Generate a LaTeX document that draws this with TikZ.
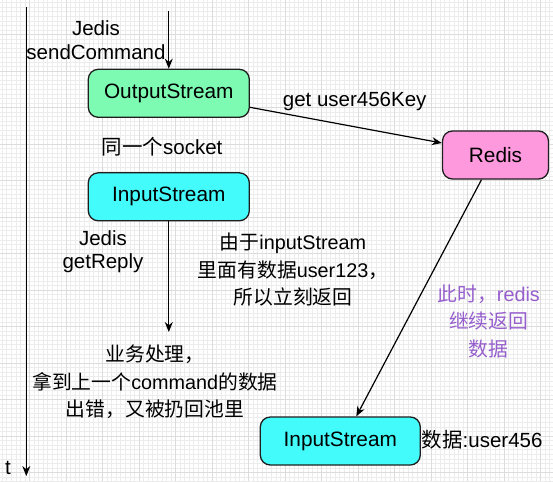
\documentclass[tikz,border=0pt]{standalone}
\usepackage{fontspec}
\setmainfont{Liberation Sans}
\newfontfamily\cjk{Noto Sans CJK SC}
\usetikzlibrary{arrows.meta}
\definecolor{gminor}{RGB}{236,236,236}
\definecolor{gmajor}{RGB}{220,220,220}
\definecolor{outgreen}{RGB}{125,251,178}
\definecolor{incyan}{RGB}{68,251,251}
\definecolor{redpink}{RGB}{255,153,221}
\definecolor{notepurple}{RGB}{150,95,205}
\definecolor{edge}{RGB}{30,30,30}
\tikzset{
  box/.style={draw=edge, line width=1.3pt, rounded corners=10pt, minimum width=161pt, minimum height=48pt, inner sep=0pt, font=\fontsize{20.8}{24}\selectfont},
  conn/.style={draw=black, line width=1.2pt, -{Stealth[length=10pt,width=8pt]}},
  lbl/.style={inner sep=0pt, align=center, font=\fontsize{20.5}{23.5}\selectfont},
  cnlbl/.style={inner sep=0pt, align=center, font=\fontsize{19.8}{27.5}\selectfont},
}
\begin{document}
\begin{tikzpicture}[x=1pt,y=-1pt]
\useasboundingbox (0,0) rectangle (553,481);
\fill[white] (0,0) rectangle (553,481);
\begin{scope}
\clip (0,0) rectangle (553,481);
\foreach \i in {0,...,122} {
  \draw[gminor, line width=0.6pt] ({-2.4+\i*4.5625},0) -- ++(0,481);
}
\foreach \i in {0,...,108} {
  \draw[gminor, line width=0.6pt] (0,{-2+\i*4.5625}) -- ++(553,0);
}
\foreach \i in {0,...,15} {
  \draw[gmajor, line width=0.7pt] ({29.5+(\i-1)*36.5},0) -- ++(0,481);
}
\foreach \i in {0,...,14} {
  \draw[gmajor, line width=0.7pt] (0,{-2+\i*36.5}) -- ++(553,0);
}
\end{scope}

% time axis
\coordinate (ttop) at (26.3,7);
\coordinate (tbot) at (26.3,476);
\draw[conn] (ttop) -- (tbot);
\node[lbl, anchor=center] (t) at (8,468) {t};

% boxes
\node[box, fill=outgreen] (out) at (168.8,93.3) {OutputStream};
\node[box, fill=incyan] (in1) at (168.8,196.8) {InputStream};
\node[box, fill=redpink, minimum width=106pt] (redis) at (495.5,155) {Redis};
\node[box, fill=incyan, minimum width=160pt] (in2) at (340.3,441) {InputStream};

% top arrow
\coordinate (send) at (168.8,11);
\draw[conn] (send) -- (out.north);
\node[lbl] (jsend) at (96,40) {Jedis\\sendCommand};

% out -> redis
\draw[conn] ([yshift=-14pt]out.east) -- ([yshift=12pt]redis.west);
\node[lbl] (getk) at (354.7,101) {get user456Key};

\node[lbl] (sock) at (162,146.5) {{\cjk 同一个}socket};

% in1 -> down
\coordinate (proc) at (168.8,332);
\draw[conn] (in1.south) -- (proc);
\node[lbl] (jget) at (103,251.5) {Jedis\\getReply};

\node[cnlbl] (why) at (293,270) {{\cjk 由于}inputStream\\{\cjk 里面有数据}user123{\cjk ，}\\{\cjk 所以立刻返回}};

\node[cnlbl] (biz) at (155,382) {{\cjk 业务处理，}\\{\cjk 拿到上一个}command{\cjk 的数据}\\{\cjk 出错，又被扔回池里}};

% redis -> in2
\draw[conn] ([xshift=-14pt]redis.south) -- ([xshift=16pt]in2.north);
\node[cnlbl, text=notepurple] (note) at (488.7,321.5) {{\cjk 此时，}redis\\{\cjk 继续返回}\\{\cjk 数据}};

\node[lbl, anchor=west] (data) at (421.5,440) {{\cjk 数据}:user456};
\end{tikzpicture}
\end{document}
